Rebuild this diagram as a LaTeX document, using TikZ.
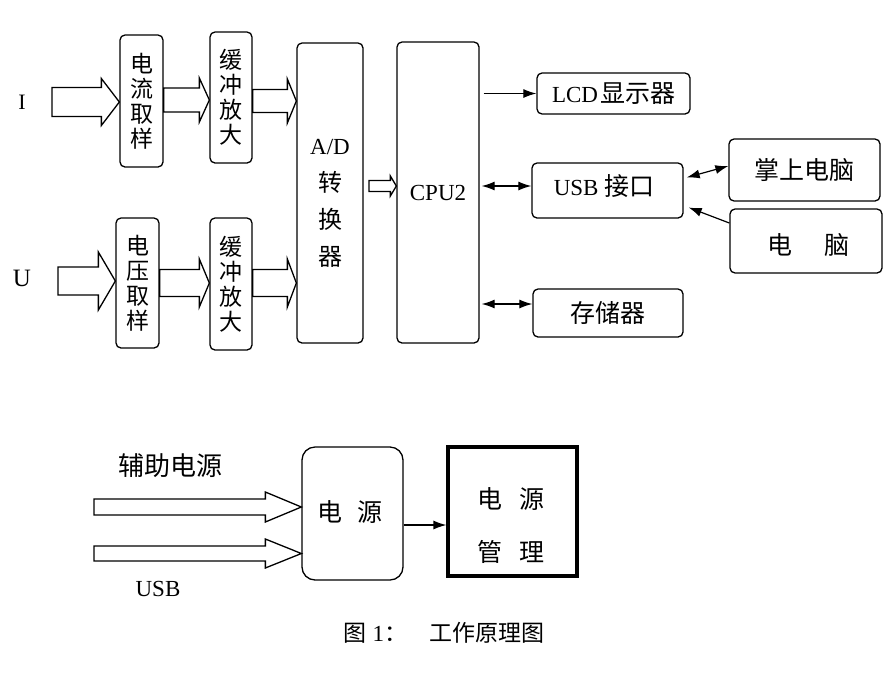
\documentclass[tikz,border=0pt]{standalone}
\usepackage{fontspec}
\setmainfont{Liberation Serif}
\newfontfamily\cjk{Noto Sans CJK SC}
\usetikzlibrary{arrows.meta,calc}
\newcommand\harrow[5]{%
  \draw[hollow] let \p1=(#1), \p2=(#2) in
    (\x1,\y1+#3pt) -- (\x2-#5pt,\y1+#3pt) -- (\x2-#5pt,\y1+#4pt) -- (\x2,\y1)
    -- (\x2-#5pt,\y1-#4pt) -- (\x2-#5pt,\y1-#3pt) -- (\x1,\y1-#3pt) -- cycle;}
\begin{document}
\begin{tikzpicture}[x=1pt,y=-1pt,
  box/.style={draw,line width=1.3pt,rounded corners=5pt,inner sep=0pt,align=center},
  vtext/.style={font=\cjk\fontsize{23}{25}\selectfont},
  htext/.style={font=\fontsize{23}{26}\selectfont},
  ctext/.style={font=\cjk\fontsize{25}{28}\selectfont},
  hollow/.style={line width=1.3pt,line join=miter},
  tip/.style={},
  arr/.style={line width=1.2pt,-{Latex[length=13pt,width=9pt]}},
  darr/.style={line width=1.2pt,{Latex[length=13pt,width=9pt]}-{Latex[length=13pt,width=9pt]}},
  lbl/.style={inner sep=0pt,font=\fontsize{23}{26}\selectfont}]
\useasboundingbox (0,0) rectangle (893,673);
% input chain
\node[box,vtext,minimum width=43pt,minimum height=132pt] (b1) at (141.5,101) {电\\流\\取\\样};
\node[box,vtext,minimum width=42pt,minimum height=131pt] (b2) at (231,97.5) {缓\\冲\\放\\大};
\node[box,vtext,minimum width=43pt,minimum height=130pt] (b3) at (137.5,283) {电\\压\\取\\样};
\node[box,vtext,minimum width=42pt,minimum height=132pt] (b4) at (231,284) {缓\\冲\\放\\大};
\node[box,minimum width=66pt,minimum height=300pt] (ad) at (330,193) {};
\node[lbl,align=center,font=\fontsize{23}{37}\selectfont] (adt) at (330,203) {A/D\\{\cjk\fontsize{24}{37}\selectfont 转}\\{\cjk\fontsize{24}{37}\selectfont 换}\\{\cjk\fontsize{24}{37}\selectfont 器}};
\node[box,htext,minimum width=82pt,minimum height=301pt] (cpu) at (438,192.5) {CPU2};
% peripherals
\node[box,htext,minimum width=153pt,minimum height=41pt] (lcd) at (613.5,93.5) {LCD\hspace{2pt}{\cjk\fontsize{25}{28}\selectfont 显示器}};
\node[box,minimum width=151pt,minimum height=55pt] (usb) at (607.5,190.5) {};
\node[lbl] (usbt) at (604,186) {USB {\cjk\fontsize{25}{28}\selectfont 接口}};
\node[box,ctext,minimum width=151pt,minimum height=62pt] (palm) at (804.5,170) {掌上电脑};
\node[box,minimum width=152pt,minimum height=64pt] (pc) at (806,241) {};
\node[lbl,ctext] (pct) at (808,245) {电\hspace{32pt}脑};
\node[box,ctext,minimum width=150pt,minimum height=48pt] (mem) at (608,313) {存储器};
% labels
\node[lbl,font=\fontsize{22}{26}\selectfont] (li) at (22,102) {I};
\node[lbl,font=\fontsize{25}{28}\selectfont] (lu) at (22,278) {U};
% hollow arrows
\coordinate (iin) at (52,102);
\coordinate (uin) at (58,281);
\coordinate (r1) at (0,100);
\coordinate (r2) at (0,101);
\coordinate (r3) at (0,283);
\coordinate (r4) at (0,283);
\coordinate (r5) at (369,186);
\harrow{iin}{b1.west}{14.5}{23.5}{18}
\harrow{b1.east |- r1}{b2.west}{12}{22}{10}
\harrow{b2.east |- r2}{ad.west}{11.5}{22}{9}
\harrow{uin}{b3.west}{14}{29}{17}
\harrow{b3.east |- r3}{b4.west}{13.5}{24}{10}
\harrow{b4.east |- r4}{ad.west}{13.5}{24}{9}
\harrow{r5}{cpu.west}{5.5}{10}{6}
% thin arrows
\draw[arr] ([xshift=4pt]cpu.east |- lcd.west) -- (lcd.west);
\draw[darr] ([xshift=2pt]cpu.east |- usbt) -- (usb.west |- usbt);
\coordinate (memy) at ([yshift=9pt]mem.west);
\draw[darr] ([xshift=2pt]cpu.east |- memy) -- (memy);
\draw[darr] ([shift={(0,-4)}]palm.west) -- ([shift={(3,-13)}]usb.east);
\draw[arr] ([shift={(0,-18)}]pc.west) -- ([shift={(5,17)}]usb.east);
% power section
\node[lbl,font=\cjk\fontsize{26}{30}\selectfont] (aux) at (170,466) {辅助电源};
\node[lbl] (lusb) at (158,589) {USB};
\node[box,rounded corners=13pt,minimum width=101pt,minimum height=133pt] (psu) at (352.5,513.5) {};
\node[lbl,ctext] (psut) at (350,512) {电\hspace{15pt}源};
\node[draw,line width=3.2pt,inner sep=0pt,minimum width=129pt,minimum height=129pt] (pm) at (512.5,511.5) {};
\node[lbl,align=center,font=\cjk\fontsize{25}{53}\selectfont] (pmt) at (511,526) {电\hspace{17pt}源\\管\hspace{17pt}理};
\coordinate (auxin) at (94,507);
\coordinate (usbin) at (94,553.5);
\harrow{auxin}{psu.west}{8}{15}{36}
\harrow{usbin}{psu.west}{7.5}{14.5}{36}
\coordinate (pa) at ([yshift=-11.5pt]psu.east);
\draw[arr] (pa) -- (pa -| pm.west);
% caption
\node[lbl,font=\fontsize{23}{26}\selectfont] (cap) at (444,633) {{\cjk 图} 1{\cjk ：}\hspace{22pt}{\cjk 工作原理图}};
\end{tikzpicture}
\end{document}
